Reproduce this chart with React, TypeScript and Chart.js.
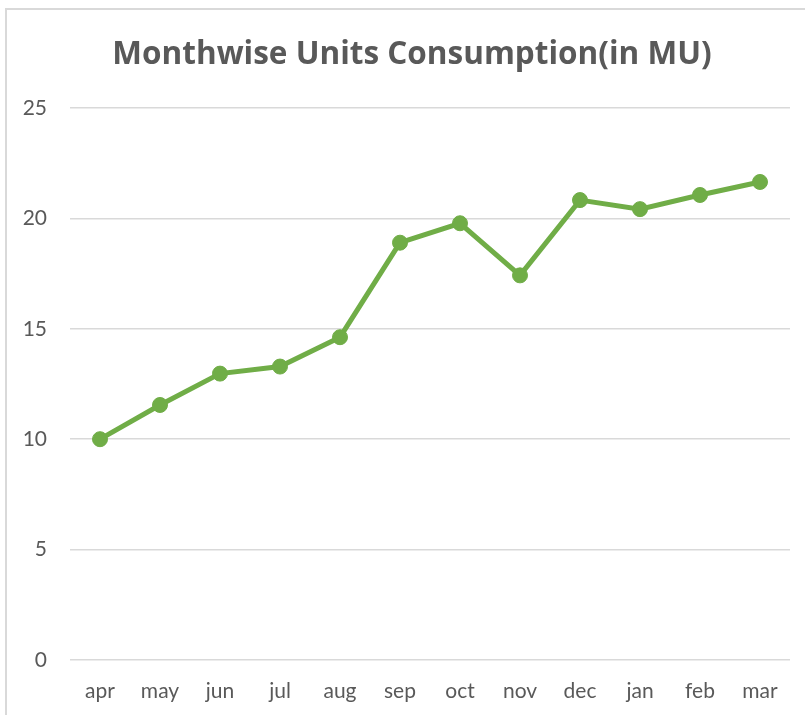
import React, { useEffect, useRef } from "react";
import { Chart, registerables } from "chart.js";

Chart.register(...registerables);

const months = ["apr", "may", "jun", "jul", "aug", "sep", "oct", "nov", "dec", "jan", "feb", "mar"];
const consumption = [10.0, 11.55, 12.97, 13.29, 14.62, 18.9, 19.78, 17.42, 20.83, 20.42, 21.06, 21.65];
const yTicks = [0, 5, 10, 15, 20, 25];
const titleText = "Monthwise Units Consumption(in MU)";

const GREEN = "#70AD47";
const TEXT = "#595959";
const GRID = "#d9d9d9";
const FONT = "Lato, 'Open Sans', sans-serif";
const TITLE_FONT = "'Open Sans', Lato, sans-serif";

const frame = {
  id: "frame",
  beforeDraw(chart: any) {
    const { ctx, width, height } = chart;
    ctx.save();
    ctx.fillStyle = "#ffffff";
    ctx.fillRect(0, 0, width, height);
    ctx.strokeStyle = "#d9d9d9";
    ctx.lineWidth = 2;
    ctx.beginPath();
    ctx.moveTo(6, height);
    ctx.lineTo(6, 9);
    ctx.lineTo(width, 9);
    ctx.stroke();
    ctx.restore();
  },
  afterDraw(chart: any) {
    const { ctx } = chart;
    ctx.save();
    ctx.fillStyle = TEXT;
    ctx.font = `bold 31.5px ${TITLE_FONT}`;
    ctx.textAlign = "center";
    ctx.textBaseline = "alphabetic";
    ctx.fillText(titleText, 412, 64);
    ctx.restore();
  },
};

export default function App() {
  const ref = useRef<HTMLCanvasElement | null>(null);
  useEffect(() => {
    if (!ref.current) return;
    const chart = new Chart(ref.current, {
      type: "line",
      data: {
        labels: months,
        datasets: [
          {
            label: "Consumption",
            data: consumption,
            borderColor: GREEN,
            backgroundColor: GREEN,
            borderWidth: 5,
            pointRadius: 7.5,
            pointBackgroundColor: GREEN,
            pointBorderColor: GREEN,
            pointBorderWidth: 1,
            tension: 0,
          },
        ],
      },
      options: {
        animation: false,
        responsive: false,
        maintainAspectRatio: false,
        layout: { padding: { left: 0, right: 15, top: 108, bottom: 0 } },
        plugins: {
          legend: { display: false },
          tooltip: { enabled: false },
          title: { display: false },
        },
        scales: {
          x: {
            offset: true,
            grid: { display: false, drawTicks: false },
            border: { display: false },
            ticks: {
              color: TEXT,
              font: { family: FONT, size: 21 },
              padding: 19,
              maxRotation: 0,
              autoSkip: false,
            },
            afterFit(scale: any) {
              scale.height = 55;
            },
          },
          y: {
            min: 0,
            max: 25,
            afterBuildTicks(scale: any) {
              scale.ticks = yTicks.map((v) => ({ value: v }));
            },
            grid: { color: GRID, lineWidth: 1.5, drawTicks: false },
            border: { display: false },
            ticks: {
              color: TEXT,
              font: { family: FONT, size: 21 },
              padding: 23,
            },
            afterFit(scale: any) {
              scale.width = 70;
            },
          },
        },
      },
      plugins: [frame],
    });
    return () => chart.destroy();
  }, []);
  return (
    <div style={{ position: "absolute", left: 0, top: 0, width: 805, height: 715 }}>
      <canvas ref={ref} width={805} height={715} style={{ display: "block" }} />
    </div>
  );
}
